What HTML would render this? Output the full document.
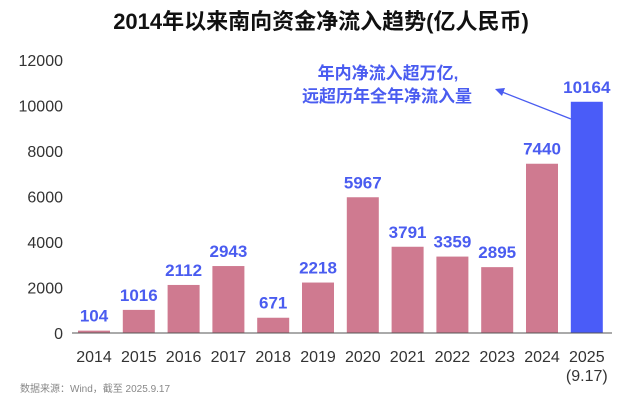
<!DOCTYPE html>
<html><head><meta charset="utf-8"><style>
body{margin:0;background:#fff;}
svg text{font-family:"Liberation Sans","Noto Sans CJK SC",sans-serif;}
</style></head><body>
<svg width="628" height="406" viewBox="0 0 628 406" xmlns="http://www.w3.org/2000/svg">
<text x="321" y="29" text-anchor="middle" font-size="22" font-weight="bold" fill="#111">2014年以来南向资金净流入趋势(亿人民币)</text>
<g id="yaxis"></g>
<g id="bars"></g>
<line x1="72" y1="333" x2="612" y2="333" stroke="#555" stroke-width="1"/>
<text x="388" y="79" text-anchor="middle" font-size="17" font-weight="bold" fill="#4a5cf0">年内净流入超万亿,</text>
<text x="387" y="102" text-anchor="middle" font-size="17" font-weight="bold" fill="#4a5cf0">远超历年全年净流入量</text>
<line x1="571" y1="119" x2="502" y2="92" stroke="#4a5cf0" stroke-width="1.3"/>
<polygon points="495,89 505,88 502,96" fill="#4a5cf0"/>
<text x="20" y="392" font-size="10" fill="#888">数据来源：Wind，截至 2025.9.17</text>
</svg>
<script>
const years=["2014","2015","2016","2017","2018","2019","2020","2021","2022","2023","2024","2025"];
const values=[104,1016,2112,2943,671,2218,5967,3791,3359,2895,7440,10164];
const labels=["104","1016","2112","2943","671","2218","5967","3791","3359","2895","7440","10164"];
const yTicks=[0,2000,4000,6000,8000,10000,12000];
const NS="http://www.w3.org/2000/svg";
const y0=333, k=0.02275;
function yS(v){return y0-v*k;}
function xS(i){return 94+i*44.8;}
const ya=document.getElementById('yaxis');
yTicks.forEach(t=>{
 const e=document.createElementNS(NS,'text');
 e.setAttribute('x',63);e.setAttribute('y',yS(t)+6);e.setAttribute('text-anchor','end');
 e.setAttribute('font-size','16');e.setAttribute('fill','#333');e.textContent=t;
 
 
 ya.appendChild(e);
});
const g=document.getElementById('bars');
years.forEach((yr,i)=>{
 const last=i===years.length-1;
 const r=document.createElementNS(NS,'rect');
 r.setAttribute('x',xS(i)-16);r.setAttribute('width',32);
 r.setAttribute('y',yS(values[i]));r.setAttribute('height',y0-yS(values[i]));
 r.setAttribute('fill',last?'#4a5cf8':'#cf7a90');
 
 
 g.appendChild(r);
 const v=document.createElementNS(NS,'text');
 v.setAttribute('x',xS(i));v.setAttribute('y',yS(values[i])-9);v.setAttribute('text-anchor','middle');
 v.setAttribute('font-size','17');v.setAttribute('font-weight','bold');v.setAttribute('fill','#4a5cf0');
 v.textContent=labels[i];
 
 
 g.appendChild(v);
 const t=document.createElementNS(NS,'text');
 t.setAttribute('x',xS(i));t.setAttribute('y',362);t.setAttribute('text-anchor','middle');
 t.setAttribute('font-size','16');t.setAttribute('fill','#333');t.textContent=yr;
 
 
 g.appendChild(t);
 if(last){
  const s=document.createElementNS(NS,'text');
  s.setAttribute('x',xS(i));s.setAttribute('y',381);s.setAttribute('text-anchor','middle');
  s.setAttribute('font-size','16');s.setAttribute('fill','#333');s.textContent='(9.17)';
  
  
  g.appendChild(s);
 }
});
</script>
</body></html>
